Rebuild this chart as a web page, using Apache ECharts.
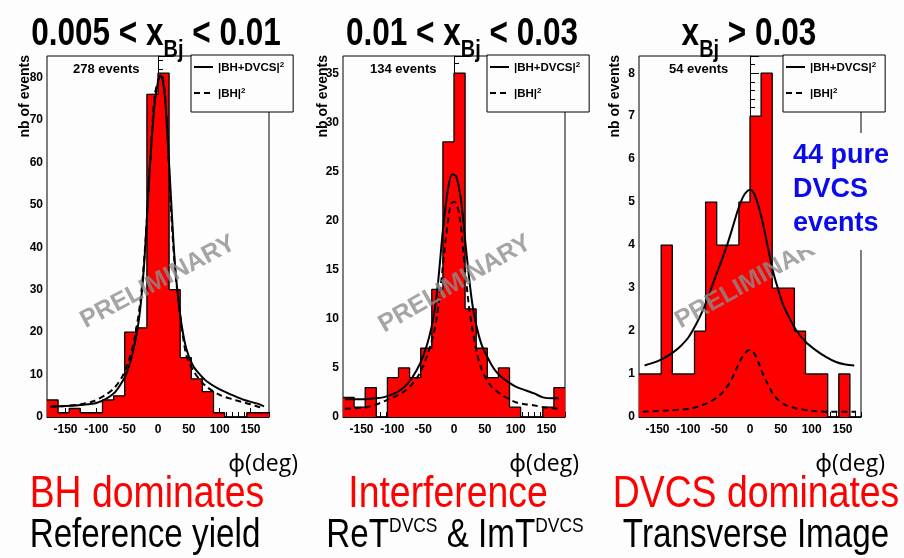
<!DOCTYPE html>
<html>
<head>
<meta charset="utf-8">
<style>
    html, body {margin:0;padding:0;background:#fdfdfd}
    #main {width:904px;height:558px}
</style>
<script src="https://cdn.jsdelivr.net/npm/echarts@6.0.0/dist/echarts.min.js"></script>
</head>
<body>
<div id="main"></div>
<script>
    // histogram bins, 18 deg wide
    var phiEdges = [-180,-162,-144,-126,-108,-90,-72,-54,-36,-18,0,18,36,54,72,90,108,126,144,162,180];
    var counts1 = [4,1,2,1,1,4,5,20,21,76,81,30,14,9,6,1,0,0,1,1];
    var counts2 = [2,1,3,0,4,5,4,7,13,28,35,11,7,4,5,1,0,0,1,3];
    var counts3 = [1,1,4,1,1,2,5,4,4,5,7,8,3,3,2,1,1,0,1,0];

    // |BH+DVCS|^2 curves (solid)
    var fitAll1 = [[-172,2.5],[-150,2.6],[-120,2.9],[-100,3.3],[-85,4.2],[-70,5.8],[-58,8.3],[-50,10.6],[-40,15.7],[-30,24],[-22,37],[-14,57],[-6,73],[0,79],[4,80.5],[8,79],[12,74],[19,57],[27,37],[36,24],[46,16],[57,12],[68,10],[80,8.3],[100,6.5],[120,5.2],[140,4],[160,3.2],[172,2.5]];
    var fitAll2 = [[-177,1.8],[-150,1.8],[-130,1.9],[-115,2.0],[-100,2.3],[-88,2.7],[-75,3.4],[-61,4.7],[-50,6.2],[-40,8.2],[-32,10.6],[-26,13.6],[-18,19],[-10,23.1],[-3,24.7],[3.5,24.5],[11.6,22],[19.7,17],[30.5,11.2],[44,7.5],[60,5.4],[70,4.5],[84.5,3.7],[100,3.1],[117,2.7],[130,2.4],[144,2.0],[160,1.9],[170,1.9]];
    var fitAll3 = [[-171,1.2],[-155,1.27],[-141,1.36],[-127,1.48],[-114,1.63],[-100,1.85],[-87,2.17],[-76,2.5],[-66,2.87],[-55,3.3],[-44,3.72],[-36,4.05],[-28,4.42],[-20,4.8],[-12,5.1],[-5,5.25],[1,5.29],[7,5.19],[14,4.9],[21,4.5],[29,3.95],[37,3.41],[45,3.0],[53,2.64],[64,2.3],[75,2.02],[90,1.75],[107,1.55],[123,1.4],[139.5,1.28],[155,1.22],[169,1.2]];

    // |BH|^2 curves (dashed)
    var fitBH1 = [[-175,2.4],[-150,2.6],[-125,3],[-105,3.7],[-85,5.2],[-70,7],[-58,9.5],[-48,13],[-38,18.5],[-28,28],[-20,42],[-12,62],[-5,76],[2,80],[6,80.5],[10,78],[15,68],[20,52],[27,36],[36,24],[46,14.5],[57,11],[68,8.7],[80,7],[100,5.2],[120,4.2],[135,3.6],[150,3.0],[165,2.3],[172,2.0]];
    var fitBH2 = [[-177,0.85],[-160,0.9],[-142,1.0],[-125,1.3],[-110,1.7],[-95,2.1],[-83,2.5],[-70,3.2],[-56,4.4],[-45,6.0],[-34,8.2],[-27,10.5],[-21,13.6],[-13,18.3],[-5,21.7],[1,21.9],[9,20.4],[17,15.6],[25,10.9],[36,6.8],[44,5.0],[52,3.9],[62,3.0],[74,2.4],[87,1.9],[100,1.5],[115,1.3],[128,1.2],[145,1.0],[160,0.9],[172,0.85]];
    var fitBH3 = [[-174,0.12],[-150,0.14],[-125,0.16],[-98,0.19],[-85,0.24],[-71,0.31],[-57,0.42],[-44,0.58],[-36,0.73],[-28,0.93],[-21,1.15],[-14,1.36],[-8,1.48],[-3.5,1.55],[2,1.56],[6,1.5],[10,1.4],[15,1.22],[21,1.0],[29,0.76],[37,0.54],[47,0.38],[58.6,0.27],[75,0.2],[91,0.16],[110,0.13],[129,0.12],[150,0.12],[172,0.12]];

    var xTicks = [-150,-100,-50,0,50,100,150];
    var yMax = [85.05, 36.75, 8.4];
    var yStep = [10, 5, 1];
    var eventLabels = ['278 events', '134 events', '54 events'];

    var counts = [counts1, counts2, counts3];
    var fitsAll = [fitAll1, fitAll2, fitAll3];
    var fitsBH = [fitBH1, fitBH2, fitBH3];

    var bg = '#fdfdfd';
    var sans = '"Liberation Sans", Arial, sans-serif';
    var squeeze = 0.83;   // no narrow font here, so squeeze Liberation Sans
    var lefts = [47, 343, 639];
    var eventsX = [73, 370, 669];
    var yNameX = [25, 323, 615];
    var phiX = [298, 579, 885];
    var centers = [147, 448, 756];
    var subCenters = [145, 455, 756];
    var marks = [[158, 282, 28], [455, 284, 30], [752, 281, 29]];

    var chart = echarts.init(document.getElementById('main'));

    var grid = [], xAxis = [], yAxis = [], series = [], legend = [], graphic = [];
    var tickFont = {color:'#000', fontWeight:'bold', fontSize:12, fontFamily:sans};

    for (var i = 0; i < 3; i++) {
        grid.push({left: lefts[i], top: 56, width: 222, height: 361, show: true,
            borderColor: '#000', borderWidth: 1, backgroundColor: bg});

        // small ticks every 10 deg
        xAxis.push({type:'value', gridIndex:i, position:'bottom', min:-180, max:180, interval:10,
            axisLine:{lineStyle:{color:'#000', width:1}},
            axisTick:{inside:true, length:5, lineStyle:{color:'#000'}},
            axisLabel:{show:false}, splitLine:{show:false}});
        // labelled ticks
        xAxis.push({type:'value', gridIndex:i, position:'bottom', min:-180, max:180,
            axisLine:{show:false},
            axisTick:{inside:true, length:9, customValues:xTicks, lineStyle:{color:'#000'}},
            axisLabel:Object.assign({customValues:xTicks, margin:7}, tickFont),
            splitLine:{show:false}});

        yAxis.push({type:'value', gridIndex:i, min:0, max:yMax[i], interval:yStep[i],
            axisLine:{show:true, lineStyle:{color:'#000', width:1}},
            axisTick:{inside:true, length:9, lineStyle:{color:'#000'}},
            minorTick:{show:true, splitNumber:5, length:5, lineStyle:{color:'#000'}},
            axisLabel:Object.assign({showMaxLabel:false, margin:4}, tickFont),
            splitLine:{show:false}, minorSplitLine:{show:false}});

        var hist = [];
        for (var k = 0; k < counts[i].length; k++) {
            hist.push([phiEdges[k], counts[i][k]]);
        }
        hist.push([phiEdges[phiEdges.length - 1], counts[i][counts[i].length - 1]]);

        series.push({type:'line', xAxisIndex:2 * i, yAxisIndex:i, step:'end', data:hist,
            symbol:'none', silent:true, z:2,
            lineStyle:{color:'#000', width:1.3},
            areaStyle:{color:'#ff0000', opacity:1}});
        series.push({name:'full', type:'line', xAxisIndex:2 * i, yAxisIndex:i, data:fitsAll[i],
            smooth:0.3, symbol:'none', silent:true, z:3,
            itemStyle:{color:'#000'},
            lineStyle:{color:'#000', width:2}});
        series.push({name:'bh', type:'line', xAxisIndex:2 * i, yAxisIndex:i, data:fitsBH[i],
            smooth:0.3, symbol:'none', silent:true, z:3,
            itemStyle:{color:'#000'},
            lineStyle:{color:'#000', width:2, type:[6, 4]}});

        legend.push({data:['full', 'bh'], orient:'vertical', left:lefts[i] + 144, top:55,
            backgroundColor:bg, borderColor:'#000', borderWidth:1, borderRadius:0,
            padding:[6, 9, 12, 2], itemGap:13, itemWidth:19, itemHeight:14, itemTextGap:4,
            selectedMode:false,
            itemStyle:{opacity:0},
            formatter:function (name) {
                return name === 'full' ? '{t||BH+DVCS|}{s|2}' : '{t||BH|}{s|2}';
            },
            textStyle:{rich:{
                t:{fontSize:11.5, fontWeight:'bold', color:'#000', fontFamily:sans, lineHeight:14, verticalAlign:'bottom'},
                s:{fontSize:8, fontWeight:'bold', color:'#000', fontFamily:sans, lineHeight:9, verticalAlign:'bottom', padding:[0,0,5,0]}
            }}});

        graphic.push({type:'text', x:eventsX[i], y:69, z:20,
            style:{text:eventLabels[i], font:'bold 13px ' + sans, fill:'#000', verticalAlign:'middle'}});
        graphic.push({type:'text', x:yNameX[i], y:55, rotation:Math.PI / 2, z:20,
            style:{text:'nb of events', font:'bold 14px ' + sans, fill:'#000', align:'right', verticalAlign:'middle'}});
        graphic.push({type:'text', x:marks[i][0], y:marks[i][1], rotation:marks[i][2] * Math.PI / 180, z:30,
            style:{text:'PRELIMINARY', font:'bold 25px ' + sans, fill:'rgba(140,140,140,0.78)', align:'center', verticalAlign:'middle'}});
        graphic.push({type:'text', x:phiX[i], y:464, z:20,
            style:{text:'\u03d5(deg)', font:'23px "Open Sans", "Noto Sans", sans-serif', fill:'#000', align:'right', verticalAlign:'middle'}});
    }

    var titles = [
        '{n|0.005 < x}{b|Bj}{n| < 0.01}',
        '{n|0.01 < x}{b|Bj}{n| < 0.03}',
        '{n|x}{b|Bj}{n| > 0.03}'
    ];
    var titleX = [156, 462, 749];
    var redText = ['BH dominates', 'Interference', 'DVCS dominates'];
    var blackText = ['{n|Reference yield}', '{n|ReT}{s|DVCS}{n| & ImT}{s|DVCS}', '{n|Transverse Image}'];

    for (var j = 0; j < 3; j++) {
        graphic.push({type:'text', x:titleX[j], y:16, scaleX:squeeze, z:20,
            style:{text:titles[j], align:'center', verticalAlign:'top', rich:{
                n:{fontSize:38, fontWeight:'bold', fontFamily:sans, fill:'#000', lineHeight:40, verticalAlign:'top'},
                b:{fontSize:24, fontWeight:'bold', fontFamily:sans, fill:'#000', lineHeight:24, verticalAlign:'top', padding:[22,0,0,0]}
            }}});
        graphic.push({type:'text', x:centers[j], y:495, scaleX:squeeze, z:20,
            style:{text:redText[j], font:'45px ' + sans, fill:'#ff0000', align:'center', verticalAlign:'middle'}});
        graphic.push({type:'text', x:subCenters[j], y:535, scaleX:squeeze, z:20,
            style:{text:blackText[j], align:'center', verticalAlign:'middle', rich:{
                n:{fontSize:40, fontFamily:sans, fill:'#000', lineHeight:42, verticalAlign:'bottom'},
                s:{fontSize:21, fontFamily:sans, fill:'#000', lineHeight:21, verticalAlign:'bottom', padding:[0,0,19,0]}
            }}});
    }

    graphic.push({type:'text', x:789, y:133, z:40,
        style:{text:'44 pure\nDVCS\nevents', font:'bold 27px ' + sans, fill:'#0a0aeb',
            lineHeight:34, backgroundColor:bg, padding:[6, 5, 9, 4]}});

    chart.setOption({
        backgroundColor: bg,
        animation: false,
        grid: grid,
        xAxis: xAxis,
        yAxis: yAxis,
        legend: legend,
        series: series,
        graphic: graphic
    });
</script>
</body>
</html>
